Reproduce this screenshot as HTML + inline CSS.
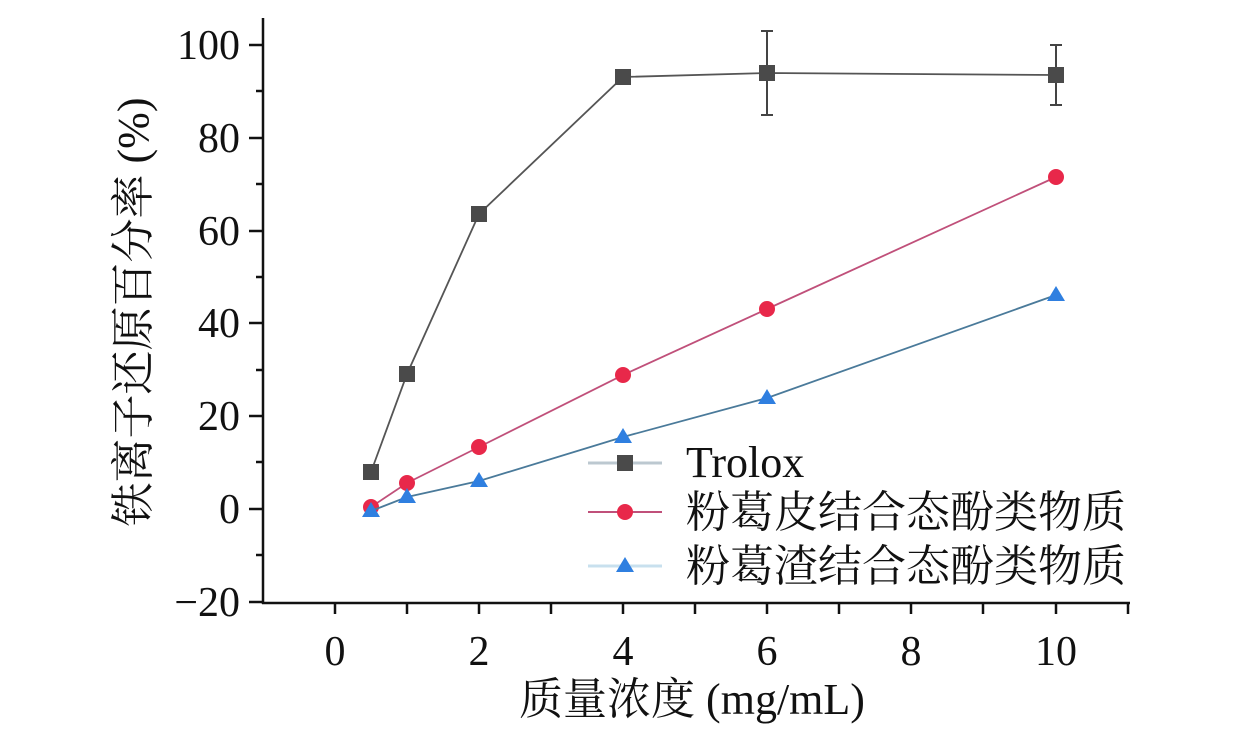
<!DOCTYPE html>
<html><head><meta charset="utf-8"><style>
html,body{margin:0;padding:0;background:#fff;}
text{font-family:"Liberation Serif","Noto Serif CJK SC",serif;fill:#111;}
</style></head><body>
<svg width="1260" height="725" viewBox="0 0 1260 725" xmlns="http://www.w3.org/2000/svg">
<g stroke="#111" stroke-width="2.5" fill="none">
<line x1="263" y1="18" x2="263" y2="604"/>
<line x1="262" y1="603" x2="1130" y2="603"/>
<line x1="249" y1="45" x2="263" y2="45"/>
<line x1="249" y1="138" x2="263" y2="138"/>
<line x1="249" y1="231" x2="263" y2="231"/>
<line x1="249" y1="323" x2="263" y2="323"/>
<line x1="249" y1="416" x2="263" y2="416"/>
<line x1="249" y1="509" x2="263" y2="509"/>
<line x1="249" y1="602" x2="263" y2="602"/>
<line x1="256" y1="91" x2="263" y2="91"/>
<line x1="256" y1="184" x2="263" y2="184"/>
<line x1="256" y1="277" x2="263" y2="277"/>
<line x1="256" y1="370" x2="263" y2="370"/>
<line x1="256" y1="462" x2="263" y2="462"/>
<line x1="256" y1="555" x2="263" y2="555"/>
<line x1="335" y1="603" x2="335" y2="614"/>
<line x1="407" y1="603" x2="407" y2="614"/>
<line x1="479" y1="603" x2="479" y2="614"/>
<line x1="551" y1="603" x2="551" y2="614"/>
<line x1="623" y1="603" x2="623" y2="614"/>
<line x1="695" y1="603" x2="695" y2="614"/>
<line x1="767" y1="603" x2="767" y2="614"/>
<line x1="839" y1="603" x2="839" y2="614"/>
<line x1="911" y1="603" x2="911" y2="614"/>
<line x1="983" y1="603" x2="983" y2="614"/>
<line x1="1056" y1="603" x2="1056" y2="614"/>
<line x1="1128" y1="603" x2="1128" y2="614"/>
</g>
<g font-size="42" text-anchor="end">
<text x="240" y="59">100</text><text x="240" y="152">80</text><text x="240" y="245">60</text>
<text x="240" y="337">40</text><text x="240" y="430">20</text><text x="240" y="523">0</text>
<text x="240" y="616">−20</text>
</g>
<g font-size="42" text-anchor="middle">
<text x="335" y="665">0</text><text x="479" y="665">2</text><text x="623" y="665">4</text>
<text x="767" y="665">6</text><text x="911" y="665">8</text><text x="1056" y="665">10</text>
</g>
<text font-size="44" text-anchor="middle" x="692" y="714">质量浓度 (mg/mL)</text>
<text font-size="44" text-anchor="middle" transform="translate(148,312) rotate(-90)">铁离子还原百分率 (%)</text>

<polyline fill="none" stroke="#555" stroke-width="1.8" points="371,472 407,374 479,214 623,77 767,73 1056,75"/>
<g stroke="#444" stroke-width="2">
<line x1="767" y1="31" x2="767" y2="115"/><line x1="761" y1="31" x2="773" y2="31"/><line x1="761" y1="115" x2="773" y2="115"/>
<line x1="1056" y1="45" x2="1056" y2="105"/><line x1="1050" y1="45" x2="1062" y2="45"/><line x1="1050" y1="105" x2="1062" y2="105"/>
</g>
<g fill="#4a4a4a">
<rect x="363" y="464" width="16" height="16"/><rect x="399" y="366" width="16" height="16"/>
<rect x="471" y="206" width="16" height="16"/><rect x="615" y="69" width="16" height="16"/>
<rect x="759" y="65" width="16" height="16"/><rect x="1048" y="67" width="16" height="16"/>
</g>
<polyline fill="none" stroke="#c0507a" stroke-width="1.8" points="371,507 407,483 479,447 623,375 767,309 1056,177"/>
<g fill="#e8284a">
<circle cx="371" cy="507" r="8"/><circle cx="407" cy="483" r="8"/><circle cx="479" cy="447" r="8"/>
<circle cx="623" cy="375" r="8"/><circle cx="767" cy="309" r="8"/><circle cx="1056" cy="177" r="8"/>
</g>
<polyline fill="none" stroke="#4a7a9a" stroke-width="1.8" points="371,511 407,497 479,481 623,437 767,398 1056,295"/>
<g fill="#2f7fe0">
<polygon points="371,502 380,517 362,517"/><polygon points="407,488 416,503 398,503"/>
<polygon points="479,472 488,487 470,487"/><polygon points="623,428 632,443 614,443"/>
<polygon points="767,389 776,404 758,404"/><polygon points="1056,286 1065,301 1047,301"/>
</g>
<line x1="588" y1="463" x2="662" y2="463" stroke="#bcc8d0" stroke-width="3"/>
<rect x="617" y="455" width="16" height="16" fill="#4a4a4a"/>
<line x1="588" y1="512" x2="662" y2="512" stroke="#c0507a" stroke-width="2"/>
<circle cx="625" cy="512" r="8" fill="#e8284a"/>
<line x1="588" y1="566" x2="662" y2="566" stroke="#c8e0ee" stroke-width="3"/>
<polygon points="625,557 634,572 616,572" fill="#2f7fe0"/>
<g font-size="44">
<text x="686" y="477">Trolox</text>
<text x="686" y="527">粉葛皮结合态酚类物质</text>
<text x="686" y="581">粉葛渣结合态酚类物质</text>
</g>
</svg>
</body></html>
